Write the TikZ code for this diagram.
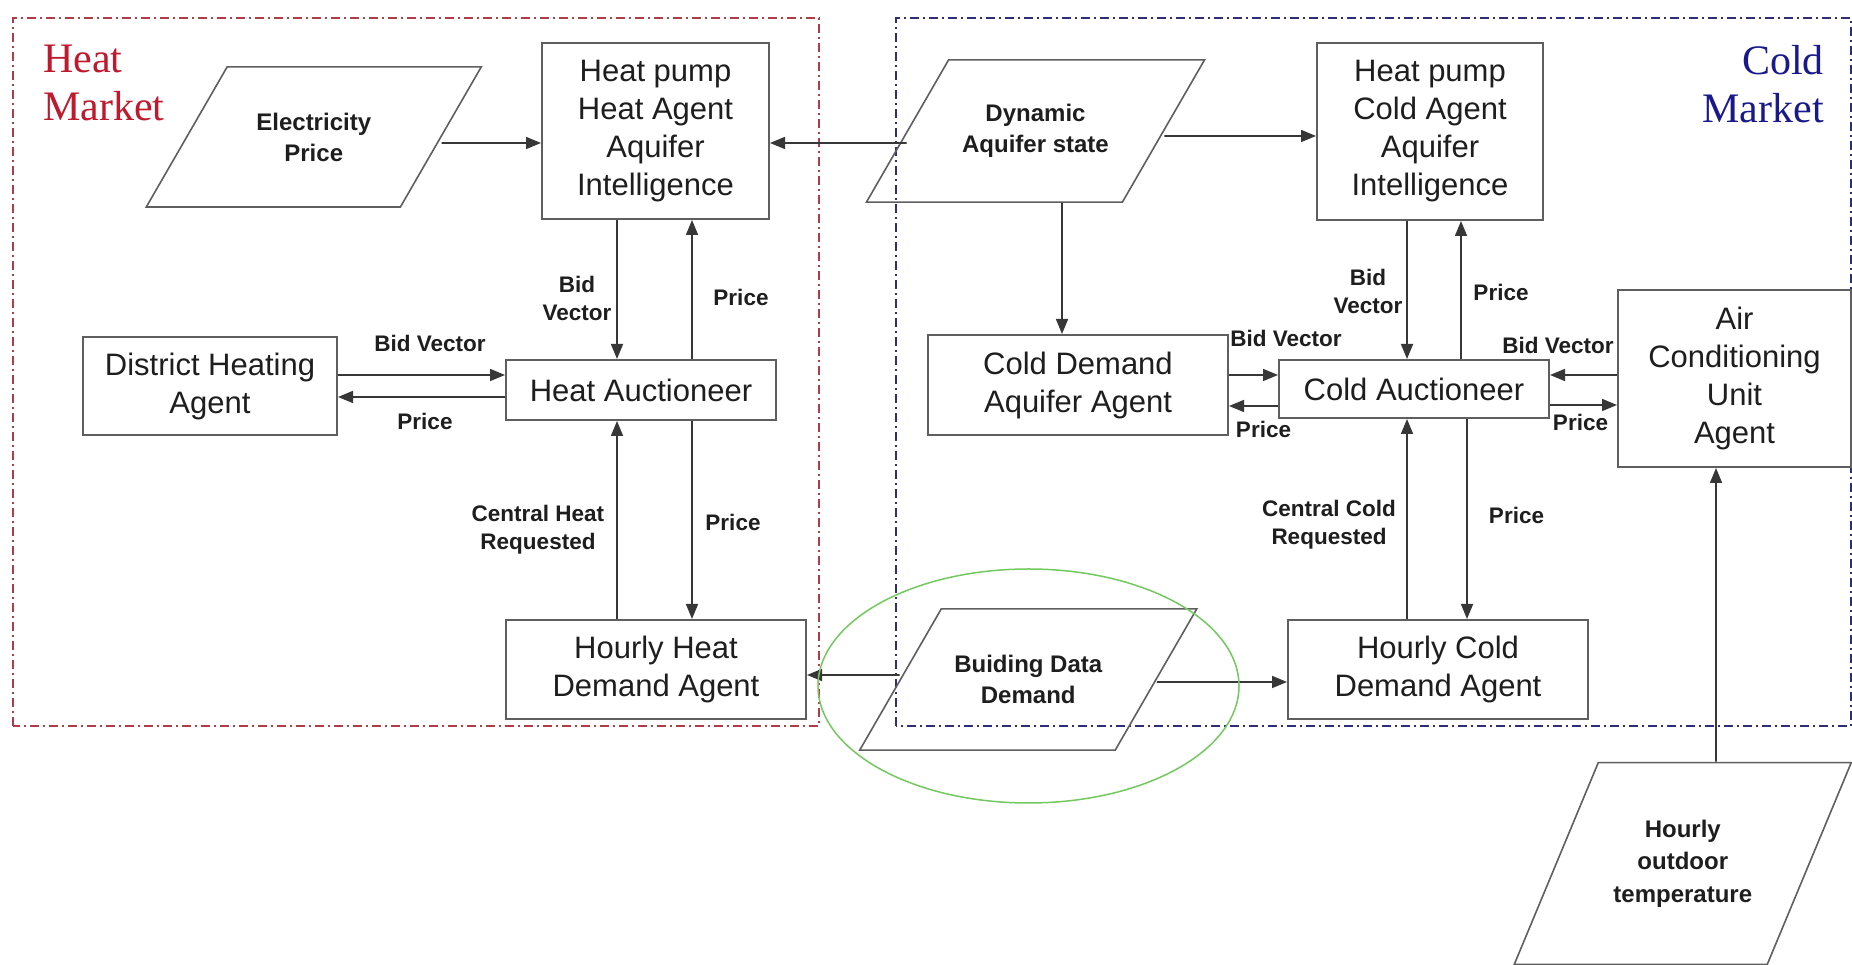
\documentclass[tikz,border=0pt]{standalone}
\usepackage{fontspec}
\setmainfont{Liberation Sans}
\newfontfamily\marketfont{Liberation Serif}
\usetikzlibrary{shapes.geometric, arrows.meta}
\definecolor{heatred}{RGB}{190,25,45}
\definecolor{coldblue}{RGB}{25,25,140}
\definecolor{heatline}{RGB}{175,60,70}
\definecolor{coldline}{RGB}{45,45,120}
\definecolor{boxgray}{RGB}{95,95,95}
\definecolor{linegray}{RGB}{55,55,55}
\definecolor{textgray}{RGB}{30,30,30}
\definecolor{ringgreen}{RGB}{115,200,95}
\begin{document}
\begin{tikzpicture}[x=1pt, y=1pt]
\tikzstyle{agent}=[rectangle, draw=boxgray, line width=2pt, align=center, text=textgray, inner sep=0pt, font=\fontsize{31}{38}\selectfont]
\tikzstyle{data}=[trapezium, trapezium left angle=60, trapezium right angle=120, trapezium stretches body, draw=boxgray, line width=1.6pt, align=center, text=textgray, inner xsep=0pt, font=\bfseries\fontsize{24}{31}\selectfont]
\tikzstyle{flow}=[-{Triangle[length=15pt, width=12pt]}, line width=1.6pt, draw=linegray, fill=linegray]
\tikzstyle{tag}=[align=center, text=textgray, inner sep=0pt, font=\bfseries\fontsize{22.5}{28}\selectfont]
\tikzstyle{market}=[inner sep=0pt, font=\marketfont\fontsize{42}{48}\selectfont]
\tikzstyle{frame}=[line width=1.5pt, dash pattern={on 9pt off 4pt on 2pt off 4pt}]
    \fill[white] (0,0) rectangle (1852,965);
    \useasboundingbox (0,0) rectangle (1852,965);
    % market frames
    \draw[frame, draw=heatline] (13,239) rectangle (819,947);
    \draw[frame, draw=coldline] (896,239) rectangle (1851,947);
    \node[market, text=heatred, anchor=north west, align=left] (heatmkt) at (43,920) {Heat\\Market};
    \node[market, text=coldblue, anchor=north east, align=right] (coldmkt) at (1824,920) {Cold\\Market};
    % heat side
    \node[data, minimum width=335pt, inner ysep=45.75pt] (ep) at (313.75,828) {Electricity\\Price};
    \node[agent, minimum width=227pt, minimum height=176pt] (hph) at (655.5,834) {Heat pump\\Heat Agent\\Aquifer\\Intelligence};
    \node[agent, minimum width=270pt, minimum height=60pt] (ha) at (641,575) {Heat Auctioneer};
    \node[agent, minimum width=254pt, minimum height=98pt] (dha) at (210,579) {District Heating\\Agent};
    \node[agent, minimum width=300pt, minimum height=99pt] (hhd) at (656,295.5) {Hourly Heat\\Demand Agent};
    % cold side
    \node[data, minimum width=338pt, inner ysep=44.4pt] (da) at (1035.5,834) {Dynamic\\Aquifer state};
    \node[agent, minimum width=226pt, minimum height=177pt] (hpc) at (1430,833.5) {Heat pump\\Cold Agent\\Aquifer\\Intelligence};
    \node[agent, minimum width=300pt, minimum height=100pt] (cda) at (1078,580) {Cold Demand\\Aquifer Agent};
    \node[agent, minimum width=270pt, minimum height=58pt] (ca) at (1414,576) {Cold Auctioneer};
    \node[agent, minimum width=233pt, minimum height=177pt] (ac) at (1734.5,586.5) {Air\\Conditioning\\Unit\\Agent};
    \node[agent, minimum width=300pt, minimum height=99pt] (hcd) at (1438,295.5) {Hourly Cold\\Demand Agent};
    \node[data, minimum width=337pt, inner ysep=46.25pt] (bdd) at (1028.25,285.5) {Buiding Data\\Demand};
    \node[data, trapezium left angle=67.4, trapezium right angle=112.6, minimum width=337pt, inner ysep=57.25pt, font=\bfseries\fontsize{24}{32.5}\selectfont] (hot) at (1682.75,101.5) {Hourly\\outdoor\\temperature};
    % connectors
    \draw[flow] ([yshift=-6pt]ep.east) -- ([yshift=-12pt]hph.west);
    \draw[flow] ([yshift=-12pt]da.west) -- ([yshift=-12pt]hph.east);
    \draw[flow] ([yshift=-5pt]da.east) -- ([yshift=-4.5pt]hpc.west);
    \draw[flow] ([xshift=26.5pt]da.south) -- ([xshift=-16pt]cda.north);
    \draw[flow] ([xshift=-38.5pt]hph.south) -- ([xshift=-24pt]ha.north);
    \draw[flow] ([xshift=51pt]ha.north) -- ([xshift=36.5pt]hph.south);
    \draw[flow] ([yshift=11pt]dha.east) -- ([yshift=15pt]ha.west);
    \draw[flow] ([yshift=-7pt]ha.west) -- ([yshift=-11pt]dha.east);
    \draw[flow] ([xshift=-39pt]hhd.north) -- ([xshift=-24pt]ha.south);
    \draw[flow] ([xshift=51pt]ha.south) -- ([xshift=36pt]hhd.north);
    \draw[flow] ([yshift=4.5pt]bdd.west) -- ([yshift=-5.5pt]hhd.east);
    \draw[flow] ([yshift=-2.5pt]bdd.east) -- ([yshift=-12.5pt]hcd.west);
    \draw[flow] ([xshift=-23pt]hpc.south) -- ([xshift=-7pt]ca.north);
    \draw[flow] ([xshift=47pt]ca.north) -- ([xshift=31pt]hpc.south);
    \draw[flow] ([yshift=10pt]cda.east) -- ([yshift=14pt]ca.west);
    \draw[flow] ([yshift=-17pt]ca.west) -- ([yshift=-21pt]cda.east);
    \draw[flow] ([yshift=3.5pt]ac.west) -- ([yshift=14pt]ca.east);
    \draw[flow] ([yshift=-16pt]ca.east) -- ([yshift=-26.5pt]ac.west);
    \draw[flow] ([xshift=-31pt]hcd.north) -- ([xshift=-7pt]ca.south);
    \draw[flow] ([xshift=53pt]ca.south) -- ([xshift=29pt]hcd.north);
    \draw[flow] ([xshift=33.25pt]hot.north) -- ([xshift=-18.5pt]ac.south);
    % connector labels
    \node[tag] (hbid) at (577,667) {Bid\\Vector};
    \node[tag] (hprice) at (741,668) {Price};
    \node[tag] (dbid) at (430,622) {Bid Vector};
    \node[tag] (dprice) at (425,544) {Price};
    \node[tag] (hreq) at (538,435) {Central Heat\\Requested};
    \node[tag] (hdprice) at (733,443) {Price};
    \node[tag] (cbid) at (1368,674) {Bid\\Vector};
    \node[tag] (cprice) at (1501,673) {Price};
    \node[tag] (abid) at (1286,627) {Bid Vector};
    \node[tag] (aprice) at (1263.5,536) {Price};
    \node[tag] (acbid) at (1558,620) {Bid Vector};
    \node[tag] (acprice) at (1580.5,543) {Price};
    \node[tag] (creq) at (1329,440.5) {Central Cold\\Requested};
    \node[tag] (cdprice) at (1516.5,450) {Price};
    % highlight round the building data
    \draw[ringgreen, line width=1.5pt] (bdd.center) ++(0.25,-6.5) ellipse [x radius=210.5, y radius=117];
\end{tikzpicture}
\end{document}
